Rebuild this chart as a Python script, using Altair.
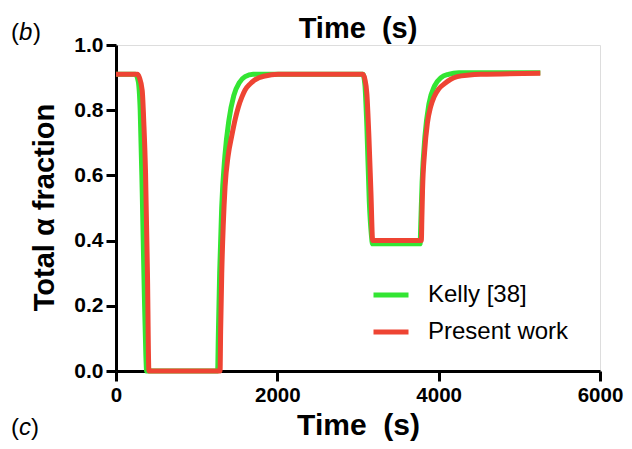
import altair as alt
import pandas as pd

# Kelly [38] (green)
kelly_t = [0, 240, 275, 300, 325, 350, 370, 380, 1260, 1268, 1285, 1310, 1350, 1400, 1460, 1530,
           1600, 1700, 1800, 3060, 3085, 3110, 3140, 3165, 3180, 3770, 3778, 3795, 3830, 3880,
           3950, 4030, 4120, 4250, 5260]
kelly_v = [0.91, 0.91, 0.89, 0.80, 0.55, 0.25, 0.05, 0.0, 0.0, 0.10, 0.30, 0.50, 0.66, 0.77, 0.845,
           0.885, 0.903, 0.91, 0.91, 0.91, 0.88, 0.75, 0.52, 0.42, 0.39, 0.39, 0.45, 0.58, 0.72,
           0.82, 0.875, 0.90, 0.91, 0.915, 0.915]

# Present work (red)
present_t = [0, 265, 290, 325, 345, 366, 390, 408, 1290, 1297, 1311, 1330, 1352, 1390, 1434, 1480,
             1517, 1560, 1600, 1660, 1722, 1846, 2010, 3060, 3085, 3110, 3135, 3160, 3182, 3785,
             3792, 3800, 3825, 3860, 3900, 3942, 4000, 4065, 4150, 4230, 4380, 4518, 5260]
present_v = [0.91, 0.91, 0.90, 0.86, 0.76, 0.61, 0.30, 0.0, 0.0, 0.12, 0.30, 0.45, 0.565, 0.66,
             0.72, 0.775, 0.81, 0.84, 0.862, 0.88, 0.893, 0.905, 0.91, 0.91, 0.895, 0.85, 0.72,
             0.55, 0.40, 0.40, 0.47, 0.555, 0.67, 0.76, 0.81, 0.84, 0.865, 0.88, 0.895, 0.903,
             0.908, 0.91, 0.913]

series = ["Kelly [38]", "Present work"]
colors = ["#33e533", "#ee4433"]
x_ticks = [0, 2000, 4000, 6000]
y_ticks = [0.0, 0.2, 0.4, 0.6, 0.8, 1.0]
TIME_TITLE = "Time\u00a0 (s)"

df = pd.concat([
    pd.DataFrame({"t": kelly_t, "v": kelly_v, "s": series[0], "o": range(len(kelly_t))}),
    pd.DataFrame({"t": present_t, "v": present_v, "s": series[1], "o": range(len(present_t))}),
])

FONT = "Liberation Sans"

lines = alt.Chart(df).mark_line(strokeWidth=5, interpolate="monotone").encode(
    x=alt.X("t:Q", scale=alt.Scale(domain=[0, 6000], nice=False),
            axis=alt.Axis(values=x_ticks, format="d", title=TIME_TITLE, grid=False,
                          domainColor="black", domainWidth=3, tickColor="black", tickWidth=3,
                          tickSize=10, labelFont=FONT, labelFontSize=20.5, labelFontWeight="bold",
                          labelColor="black", labelPadding=4, labelFlush=False,
                          titleFont=FONT, titleFontSize=30, titleFontWeight="bold",
                          titleColor="black", titleY=63, titleBaseline="alphabetic")),
    y=alt.Y("v:Q", scale=alt.Scale(domain=[0, 1], nice=False),
            axis=alt.Axis(values=y_ticks, format=".1f", title="Total α fraction", grid=False,
                          domainColor="black", domainWidth=3, tickColor="black", tickWidth=3,
                          tickSize=10, labelFont=FONT, labelFontSize=21, labelFontWeight="bold",
                          labelColor="black", labelPadding=3, labelFlush=False,
                          titleFont=FONT, titleFontSize=29, titleFontWeight="bold",
                          titleColor="black", titleX=-72, titleY=162, titleAngle=270,
                          titleAlign="center", titleBaseline="middle")),
    color=alt.Color("s:N", scale=alt.Scale(domain=series, range=colors),
                    legend=alt.Legend(orient="none", legendX=255, legendY=230, title=None,
                                      symbolType="stroke", symbolStrokeWidth=5, symbolSize=1225,
                                      labelFont=FONT, labelFontSize=24, labelColor="black",
                                      labelOffset=17, rowPadding=5, padding=0)),
    order="o:Q",
)

top_title = alt.Chart(pd.DataFrame({"txt": [TIME_TITLE]})).mark_text(
    font=FONT, fontSize=29, fontWeight="bold", color="black", align="center",
    baseline="alphabetic").encode(text="txt:N", x=alt.value(242), y=alt.value(-7))

def label(txt, x, y, style):
    return alt.Chart(pd.DataFrame({"txt": [txt]})).mark_text(
        font=FONT, fontSize=24, fontStyle=style, color="black", align="left",
        baseline="alphabetic").encode(text="txt:N", x=alt.value(x), y=alt.value(y))

panel_b = [label("(", -105, -5, "normal"), label("b", -97, -5, "italic"),
           label(")", -83, -5, "normal")]
panel_c = [label("(", -105, 390, "normal"), label("c", -97, 390, "italic"),
           label(")", -85, 390, "normal")]

chart = alt.layer(lines, top_title, *panel_b, *panel_c).properties(
    width=484, height=326,
    autosize=alt.AutoSizeParams(type="none"),
    padding={"left": 108, "top": 37, "right": 24, "bottom": 70},
).configure_view(stroke=None).configure(background="white")

chart.save("out.html", embed_options={"renderer": "svg", "actions": False})
